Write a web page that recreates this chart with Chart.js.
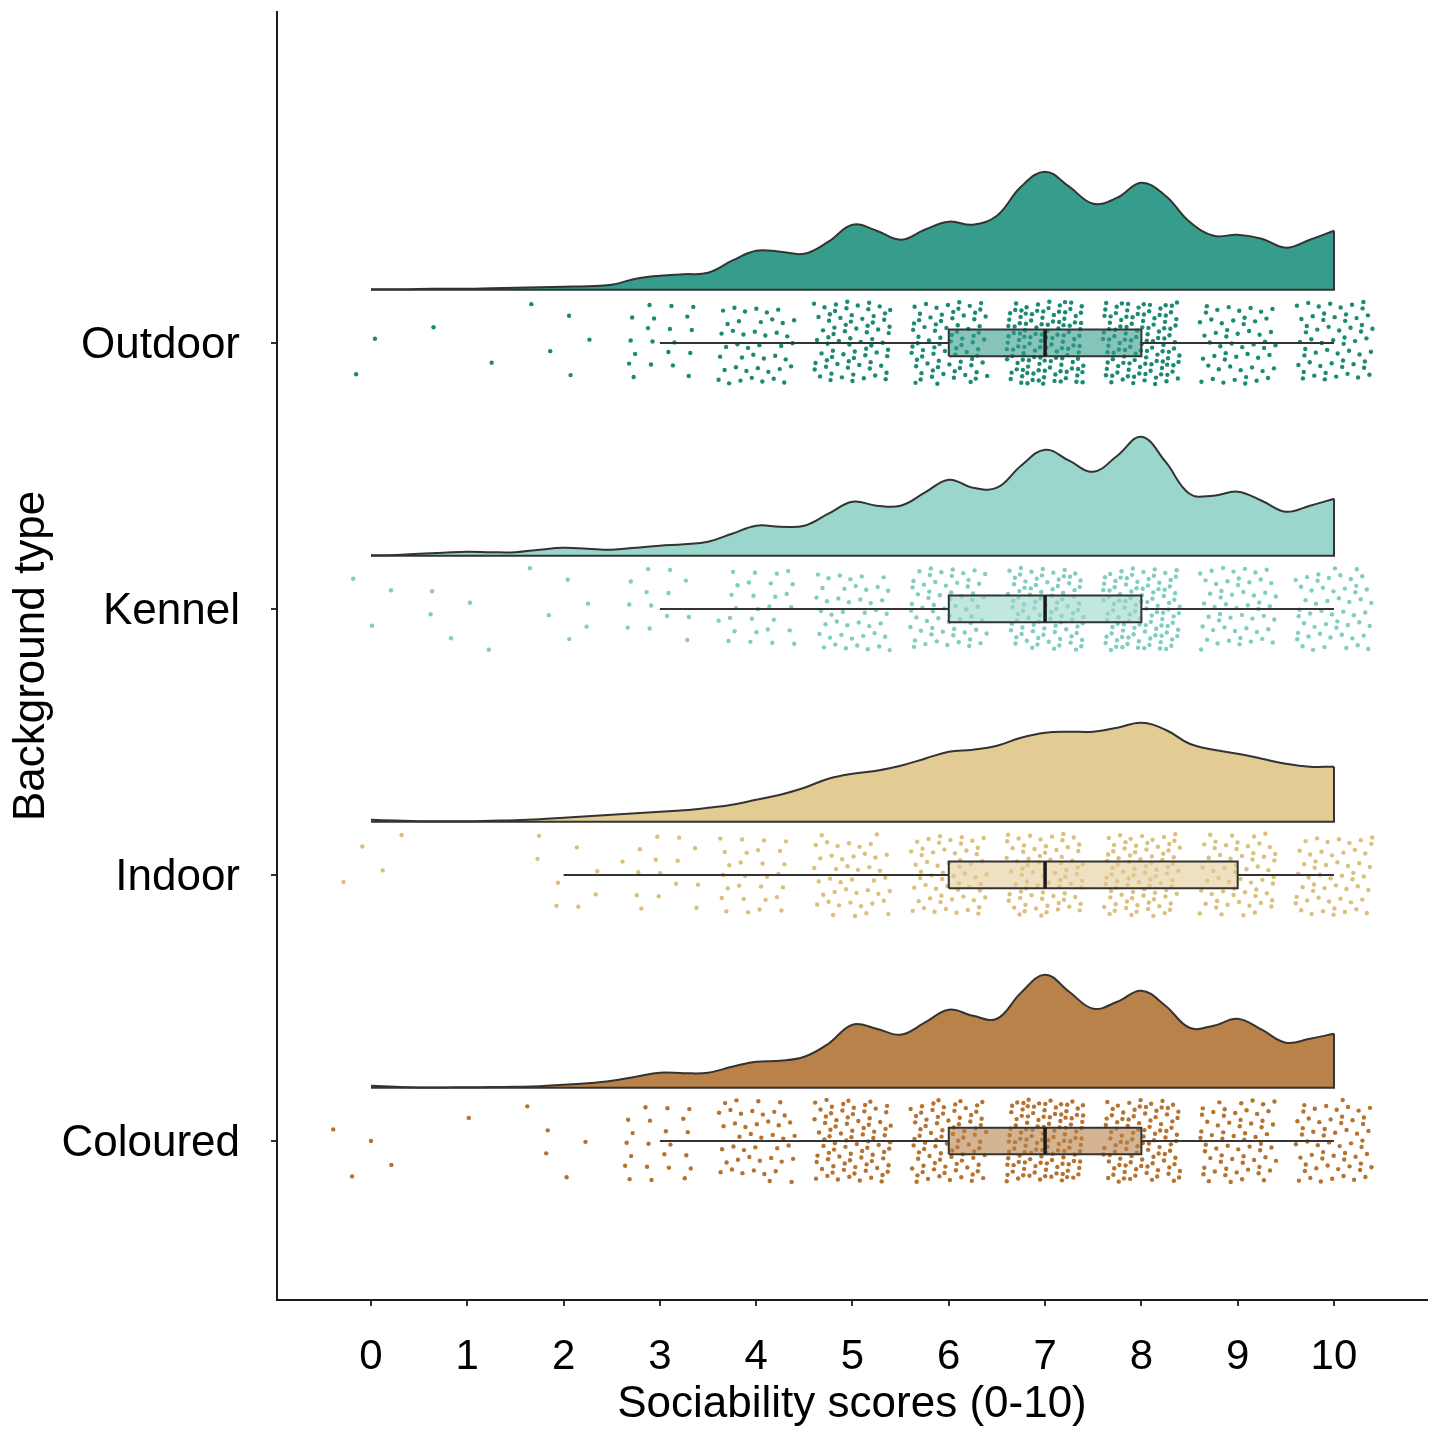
<!DOCTYPE html>
<html lang="en">
<head>
  <meta charset="UTF-8">
  <title>Sociability scores by background type</title>
  <script src="https://cdn.jsdelivr.net/npm/chart.js"></script>
  <style>
    html, body { margin: 0; padding: 0; background: #ffffff; }
    canvas { display: block; }
  </style>
</head>

<body>
  <canvas id="raincloud" width="1436" height="1429"></canvas>

  <script>
    // categories from bottom (y = 1) to top (y = 4)
    const categories = ['Coloured', 'Indoor', 'Kennel', 'Outdoor'];
    const xTicks = [0, 1, 2, 3, 4, 5, 6, 7, 8, 9, 10];
    const scores = [0, 1, 2, 3, 4, 5, 6, 7, 8, 9, 10];

    // density curves (relative units)
    const densityGrid = [0, 0.25, 0.5, 0.75, 1, 1.25, 1.5, 1.75, 2, 2.25, 2.5, 2.75,
      3, 3.25, 3.5, 3.75, 4, 4.25, 4.5, 4.75, 5, 5.25, 5.5, 5.75, 6, 6.25, 6.5, 6.75,
      7, 7.25, 7.5, 7.75, 8, 8.25, 8.5, 8.75, 9, 9.25, 9.5, 9.75, 10];
    const colouredDensity = [2, 1, 0.3, 0.3, 0.5, 0.7, 1, 1.5, 3, 4.5, 7, 11,
      15, 14.5, 15, 21, 26, 27, 31, 44, 63, 59, 53, 65, 78, 72, 69, 95,
      113, 96, 79, 86, 97, 82, 60, 62, 69, 58, 45, 49, 54];
    const indoorDensity = [2, 1.2, 0.5, 0.5, 0.5, 1, 1.5, 2.5, 4, 5.5, 7, 8.5,
      10, 11.5, 14, 17, 22, 27, 34, 43, 48, 51, 56, 63, 70, 72, 76, 84,
      89, 90, 90, 94, 99, 92, 78, 72, 68, 63, 58, 55, 55];
    const kennelDensity = [0.5, 0.8, 2, 3, 4, 3.5, 3.5, 6, 8, 7, 6, 8,
      10, 11.5, 14, 22, 30, 29, 30, 42, 54, 50, 50, 63, 76, 68, 68, 90,
      106, 95, 84, 100, 119, 94, 62, 60, 64, 55, 44, 50, 57];
    const outdoorDensity = [0.5, 0.5, 0.7, 1, 1, 1.5, 2, 2.5, 3, 3.5, 5, 11,
      14, 15.5, 17, 29, 39, 38, 36, 48, 65, 59, 50, 60, 68, 65, 74, 103,
      118, 103, 86, 92, 107, 94, 68, 54, 55, 51, 42, 50, 59];

    // number of dogs at each score 0..10 (estimated from the jittered points)
    const colouredCounts = [4, 1, 5, 22, 45, 85, 85, 120, 100, 65, 60];
    const indoorCounts = [4, 0, 8, 15, 28, 45, 60, 75, 85, 60, 55];
    const kennelCounts = [3, 5, 6, 13, 28, 45, 65, 90, 105, 55, 55];
    const outdoorCounts = [2, 2, 5, 20, 45, 75, 80, 125, 115, 55, 60];

    // boxplot stats, same order as categories
    const boxMin = [3, 2, 3, 3];
    const boxQ1 = [6, 6, 6, 6];
    const boxMedian = [7, 7, 7, 7];
    const boxQ3 = [8, 9, 8, 8];
    const boxMax = [10, 10, 10, 10];

    const densities = [colouredDensity, indoorDensity, kennelDensity, outdoorDensity];
    const counts = [colouredCounts, indoorCounts, kennelCounts, outdoorCounts];

    // styles
    const FONT = "'Liberation Sans', Arial, sans-serif";
    const OUTLINE = '#333333';
    const cloudColors = ['#b8824a', '#e2cc94', '#9ad6cb', '#369c8c'];
    const rainColors = ['#b5732f', '#dcbf7a', '#80cdc1', '#1b8a72'];
    const boxColors = ['rgba(184,130,74,0.6)', 'rgba(226,204,150,0.6)',
      'rgba(154,214,203,0.6)', 'rgba(54,156,140,0.6)'];

    const DENSITY_OFFSET = 0.2;     // cloud baseline above category line
    const DENSITY_SCALE = 1 / 266;  // relative density -> category units
    const BOX_HALF = 0.05;
    const JITTER_X = 0.4;
    const JITTER_Y = 0.155;

    const datasets = [];
    let k = 0; // deterministic jitter counter (R2 low discrepancy sequence)

    categories.forEach(function(name, i) {
      const yc = i + 1;
      const base = yc + DENSITY_OFFSET;
      const dens = densities[i];

      // cloud
      datasets.push({
        type: 'line',
        data: densityGrid.map((x, j) => ({ x: x, y: base + dens[j] * DENSITY_SCALE })),
        borderColor: OUTLINE,
        borderWidth: 2,
        backgroundColor: cloudColors[i],
        fill: { value: base },
        tension: 0.4,
        pointRadius: 0,
        order: 6
      });
      // baseline and right edge of the cloud
      datasets.push({
        type: 'line',
        data: [
          { x: densityGrid[0], y: base },
          { x: densityGrid[densityGrid.length - 1], y: base },
          { x: densityGrid[densityGrid.length - 1], y: base + dens[dens.length - 1] * DENSITY_SCALE }
        ],
        borderColor: OUTLINE,
        borderWidth: 2,
        fill: false,
        tension: 0,
        pointRadius: 0,
        order: 5
      });

      // rain: jittered raw scores
      const pts = [];
      scores.forEach(function(s, si) {
        for (let n = 0; n < counts[i][si]; n++) {
          const u = (0.5 + k * 0.7548776662466927) % 1;
          const v = (0.5 + k * 0.5698402909980532) % 1;
          k++;
          pts.push({ x: s + (u * 2 - 1) * JITTER_X, y: yc + (v * 2 - 1) * JITTER_Y });
        }
      });
      datasets.push({
        type: 'scatter',
        data: pts,
        backgroundColor: rainColors[i],
        borderWidth: 0,
        pointRadius: 2.2,
        order: 4
      });

      // whiskers
      datasets.push({
        type: 'line',
        data: [{ x: boxMin[i], y: yc }, { x: boxQ1[i], y: yc }],
        borderColor: OUTLINE, borderWidth: 2, pointRadius: 0, fill: false, order: 3
      });
      datasets.push({
        type: 'line',
        data: [{ x: boxQ3[i], y: yc }, { x: boxMax[i], y: yc }],
        borderColor: OUTLINE, borderWidth: 2, pointRadius: 0, fill: false, order: 3
      });

      // box
      datasets.push({
        type: 'line',
        data: [
          { x: boxQ1[i], y: yc - BOX_HALF },
          { x: boxQ3[i], y: yc - BOX_HALF },
          { x: boxQ3[i], y: yc + BOX_HALF },
          { x: boxQ1[i], y: yc + BOX_HALF },
          { x: boxQ1[i], y: yc - BOX_HALF }
        ],
        borderColor: OUTLINE,
        borderWidth: 2,
        backgroundColor: boxColors[i],
        fill: 'shape',
        tension: 0,
        pointRadius: 0,
        order: 2
      });
      // median
      datasets.push({
        type: 'line',
        data: [{ x: boxMedian[i], y: yc - BOX_HALF }, { x: boxMedian[i], y: yc + BOX_HALF }],
        borderColor: '#1a1a1a', borderWidth: 3.5, pointRadius: 0, fill: false, order: 1
      });
    });

    const ctx = document.getElementById('raincloud').getContext('2d');
    new Chart(ctx, {
      type: 'scatter',
      data: { datasets: datasets },
      options: {
        responsive: false,
        animation: false,
        layout: { padding: { top: 12, right: 9, left: 0, bottom: 0 } },
        plugins: {
          legend: { display: false },
          tooltip: { enabled: false }
        },
        scales: {
          x: {
            type: 'linear',
            min: -0.976,
            max: 10.966,
            afterBuildTicks: function(scale) {
              scale.ticks = xTicks.map(v => ({ value: v }));
            },
            afterFit: function(scale) {
              scale.height = 129;
              scale.paddingLeft = 0;
              scale.paddingRight = 0;
            },
            border: { display: true, color: '#1a1a1a', width: 2 },
            grid: { display: true, drawOnChartArea: false, drawTicks: true, tickLength: 6, color: OUTLINE, lineWidth: 2 },
            ticks: { color: '#000', font: { family: FONT, size: 42 }, padding: 26, maxRotation: 0, autoSkip: false },
            title: {
              display: true,
              text: 'Sociability scores (0-10)',
              color: '#000',
              font: { family: FONT, size: 44, lineHeight: 1 },
              padding: { top: 0, bottom: 2 }
            }
          },
          y: {
            type: 'linear',
            min: 0.402,
            max: 5.244,
            afterBuildTicks: function(scale) {
              scale.ticks = categories.map((c, i) => ({ value: i + 1 }));
            },
            afterFit: function(scale) {
              scale.width = 277;
              scale.paddingTop = 0;
              scale.paddingBottom = 0;
            },
            border: { display: true, color: '#1a1a1a', width: 2 },
            grid: { display: true, drawOnChartArea: false, drawTicks: true, tickLength: 6, color: OUTLINE, lineWidth: 2 },
            ticks: {
              color: '#000',
              font: { family: FONT, size: 44 },
              padding: 31,
              labelOffset: 3,
              autoSkip: false,
              callback: function(value) {
                return categories[Math.round(value) - 1];
              }
            },
            title: {
              display: true,
              text: 'Background type',
              color: '#000',
              font: { family: FONT, size: 44, lineHeight: 1 },
              padding: { top: 10, bottom: 0 }
            }
          }
        }
      }
    });
  </script>
</body>
</html>
